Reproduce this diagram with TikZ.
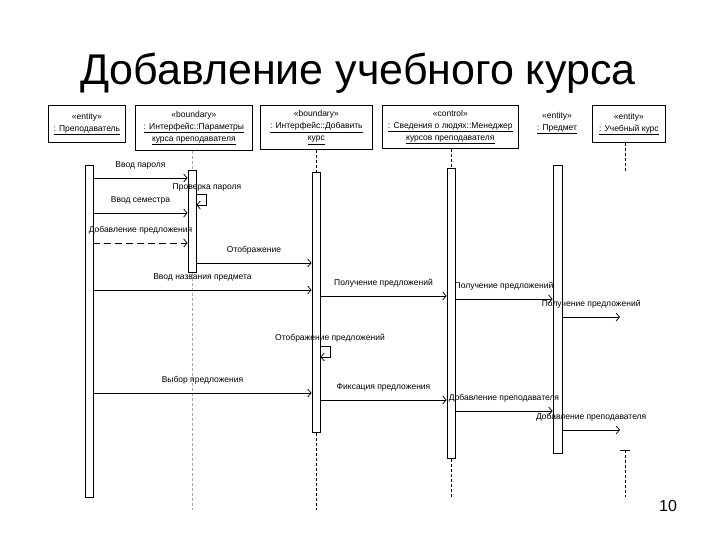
\documentclass[tikz,border=0pt]{standalone}
\usepackage{fontspec}
\setmainfont{Liberation Sans}
\usetikzlibrary{arrows.meta}
\begin{document}
\begin{tikzpicture}[x=1pt,y=-1pt,
  hbox/.style={draw, line width=0.7pt, inner sep=0pt, font=\fontsize{8.5}{12}\selectfont, align=center},
  htext/.style={inner sep=0pt, font=\fontsize{8.5}{12}\selectfont, align=center},
  bar/.style={draw, fill=white, line width=0.8pt, minimum width=8pt, inner sep=0pt},
  msg/.style={line width=0.7pt, -{Straight Barb[length=3.5pt,width=8pt]}},
  lbl/.style={font=\fontsize{8.5}{10}\selectfont, inner sep=1pt},
  life/.style={line width=0.6pt, dash pattern=on 3pt off 2pt},
  glife/.style={life, draw=gray!70}
]
\useasboundingbox (0,0) rectangle (720,540);

% title
\node[font=\fontsize{43}{50}\selectfont, anchor=base] (title) at (358,85) {Добавление учебного курса};

% header boxes
\node[hbox, minimum width=77pt, minimum height=37pt, anchor=north west] (h1) at (48,105)
  {«entity»\\\underline{: Преподаватель}};
\node[hbox, minimum width=117pt, minimum height=45pt, anchor=north west] (h2) at (135,105)
  {«boundary»\\\underline{: Интерфейс::Параметры}\\\underline{курса преподавателя}};
\node[hbox, minimum width=112pt, minimum height=44pt, anchor=north west] (h3) at (260,105)
  {«boundary»\\\underline{: Интерфейс::Добавить}\\\underline{курс}};
\node[hbox, minimum width=136pt, minimum height=43pt, anchor=north west] (h4) at (382,105)
  {«control»\\\underline{: Сведения о людях::Менеджер}\\\underline{курсов преподавателя}};
\node[htext, anchor=center] (h5) at (557,123) {«entity»\\\underline{: Предмет}};
\node[hbox, minimum width=73pt, minimum height=37pt, anchor=north west] (h6) at (592,105)
  {«entity»\\\underline{: Учебный курс}};

% activation bars
\node[bar, minimum height=332pt, anchor=north] (b1) at (89,165) {};
\node[bar, minimum height=102pt, anchor=north] (b2) at (192,170) {};
\node[bar, minimum height=260pt, anchor=north] (b3) at (316,172) {};
\node[bar, minimum height=290pt, anchor=north] (b4) at (451,168) {};
\node[bar, minimum width=9pt, minimum height=288pt, anchor=north] (b5) at (557.5,165) {};

% lifeline end points
\coordinate (e2) at (192,510);
\coordinate (e3) at (316,510);
\coordinate (e4) at (451,497);
\coordinate (t6) at (625,172);
\coordinate (s6) at (625,450);
\coordinate (e6) at (625,497);
\coordinate (b6) at (620,300);

% lifelines
\draw[glife] (b2.north |- h2.south) -- (b2.north);
\draw[glife] (b2.south) -- (e2);
\draw[life] (b3.north |- h3.south) -- (b3.north);
\draw[life] (b3.south) -- (e3);
\draw[life] (b4.north |- h4.south) -- (b4.north);
\draw[life] (b4.south) -- (e4);
\draw[life] (t6 |- h6.south) -- (t6);
\draw[life] (s6) -- (e6);
\draw[line width=0.6pt] ([xshift=-5pt]s6) -- ([xshift=5pt]s6);

% messages
\draw[msg] (b1.east |- 0,178) -- node[lbl, above=7pt] {Ввод пароля} (b2.west |- 0,178);
\draw[msg] (b2.east |- 0,194) -- ++(10,0) -- ++(0,11) -- (b2.east |- 0,205);
\node[lbl] (l2) at (207,187) {Проверка пароля};
\draw[msg] (b1.east |- 0,213) -- node[lbl, above=7pt] {Ввод семестра} (b2.west |- 0,213);
\draw[msg, dash pattern=on 7pt off 4pt] (b1.east |- 0,243) -- node[lbl, above=7pt] {Добавление предложения} (b2.west |- 0,243);
\draw[msg] (b2.east |- 0,263) -- node[lbl, above=7pt] {Отображение} (b3.west |- 0,263);
\draw[msg] (b1.east |- 0,290) -- node[lbl, above=7pt] {Ввод названия предмета} (b3.west |- 0,290);
\draw[msg] (b3.east |- 0,296) -- node[lbl, above=7pt] {Получение предложений} (b4.west |- 0,296);
\draw[msg] (b4.east |- 0,299) -- node[lbl, above=7pt] {Получение предложений} (b5.west |- 0,299);
\draw[msg] (b5.east |- 0,317) -- node[lbl, above=7pt] {Получение предложений} (b6 |- 0,317);
\draw[msg] (b3.east |- 0,346) -- ++(10,0) -- ++(0,11) -- (b3.east |- 0,357);
\node[lbl] (l10) at (330,338) {Отображение предложений};
\draw[msg] (b1.east |- 0,393) -- node[lbl, above=7pt] {Выбор предложения} (b3.west |- 0,393);
\draw[msg] (b3.east |- 0,400) -- node[lbl, above=7pt] {Фиксация предложения} (b4.west |- 0,400);
\draw[msg] (b4.east |- 0,411) -- node[lbl, above=7pt] {Добавление преподавателя} (b5.west |- 0,411);
\draw[msg] (b5.east |- 0,430) -- node[lbl, above=7pt] {Добавление преподавателя} (b6 |- 0,430);

% page number
\node[font=\fontsize{16}{18}\selectfont, anchor=base] (pg) at (668,511) {10};
\end{tikzpicture}
\end{document}
